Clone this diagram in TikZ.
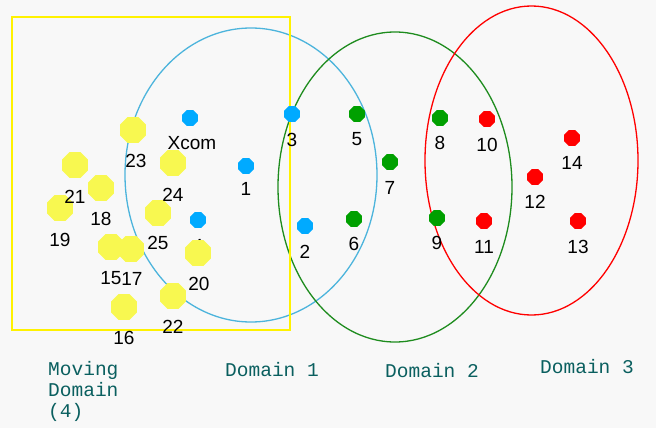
\documentclass[tikz,border=0pt]{standalone}
\usepackage{fontspec}
\setmainfont{Liberation Sans}
\newfontfamily\monofont{Liberation Mono}
\usetikzlibrary{shapes.geometric}
\definecolor{bgc}{HTML}{F8F8F8}
\definecolor{dblue}{HTML}{00AAFF}
\definecolor{lblue}{HTML}{4CB4DC}
\definecolor{dgreen}{HTML}{00A000}
\definecolor{lgreen}{HTML}{1E8C1E}
\definecolor{dred}{HTML}{FF0000}
\definecolor{ylw}{HTML}{F8F850}
\definecolor{teal}{HTML}{0A5F5F}
\tikzset{
  dot/.style={regular polygon, regular polygon sides=8, minimum size=17pt, inner sep=0pt, draw=none},
  bdot/.style={dot, fill=dblue},
  gdot/.style={dot, fill=dgreen},
  rdot/.style={dot, fill=dred},
  ydot/.style={regular polygon, regular polygon sides=8, minimum size=28pt, inner sep=0pt, draw=none, fill=ylw},
  num/.style={inner sep=0pt, text=black, font=\fontsize{19}{19}\selectfont},
  dom/.style={inner sep=0pt, text=teal, align=left, font=\monofont\fontsize{19.5}{21}\selectfont},
}
\begin{document}
\begin{tikzpicture}[x=1pt,y=-1pt]
\fill[bgc] (0,0) rectangle (656,428);
\useasboundingbox (0,0) rectangle (656,428);

% domain boundaries
\draw[lblue, line width=1.3pt] (251,175) ellipse [x radius=126, y radius=147];
\draw[lgreen, line width=1.3pt] (395,187) ellipse [x radius=117, y radius=155];
\draw[dred, line width=1.3pt] (531.5,160.5) ellipse [x radius=106.5, y radius=154.5];
\draw[yellow, line width=2pt] (12,17) rectangle (290,330);

% domain 1 points
\node[bdot] (xc) at (190,118) {};
\node[bdot] (p3) at (292,114) {};
\node[bdot] (p1) at (246,166) {};
\node[bdot] (p4) at (198,220) {};
\node[bdot] (p2) at (305,226) {};
\node[num] (l3) at (292,140) {3};
\node[num] (l1) at (246,189) {1};
\node[num] (l4) at (198,246) {4};
\node[num] (l2) at (305,252) {2};

% domain 2 points
\node[gdot] (p5) at (357,114) {};
\node[gdot] (p7) at (390,162) {};
\node[gdot] (p6) at (354,219) {};
\node[gdot] (p8) at (440,118) {};
\node[gdot] (p9) at (437,218) {};
\node[num] (l5) at (357,139) {5};
\node[num] (l7) at (390,188) {7};
\node[num] (l6) at (354,244) {6};
\node[num] (l8) at (440,143) {8};
\node[num] (l9) at (437,243) {9};

% domain 3 points
\node[rdot] (p10) at (487,119) {};
\node[rdot] (p14) at (572,138) {};
\node[rdot] (p12) at (535,177) {};
\node[rdot] (p11) at (484,221) {};
\node[rdot] (p13) at (578,221) {};
\node[num] (l10) at (487,145) {10};
\node[num] (l14) at (572,163) {14};
\node[num] (l12) at (535,202) {12};
\node[num] (l11) at (484,247) {11};
\node[num] (l13) at (578,247) {13};

% moving domain particles
\node[ydot] (p23) at (133,130) {};
\node[ydot] (p21) at (75,165) {};
\node[ydot] (p18) at (101,188) {};
\node[ydot] (p19) at (60,208) {};
\node[ydot] (p24) at (173,163) {};
\node[ydot] (p25) at (158,213) {};
\node[ydot] (p15) at (111,247) {};
\node[ydot] (p17) at (131,249) {};
\node[ydot] (p20) at (198,253) {};
\node[ydot] (p22) at (173,296) {};
\node[ydot] (p16) at (124,307) {};
\node[num] (lxc) at (192,143) {Xcom};
\node[num] (l23) at (136,161) {23};
\node[num] (l21) at (75,197) {21};
\node[num] (l18) at (101,219) {18};
\node[num] (l19) at (60,240) {19};
\node[num] (l24) at (173,195) {24};
\node[num] (l25) at (158,243) {25};
\node[num] (l15) at (111,278) {15};
\node[num] (l17) at (132,279) {17};
\node[num] (l20) at (199,284) {20};
\node[num] (l22) at (173,327) {22};
\node[num] (l16) at (124,338) {16};

% domain captions
\node[dom, anchor=north west] (mv) at (48,361) {Moving\\Domain\\(4)};
\node[dom, anchor=west] (d1) at (225,370) {Domain 1};
\node[dom, anchor=west] (d2) at (385,371) {Domain 2};
\node[dom, anchor=west] (d3) at (540,367) {Domain 3};
\end{tikzpicture}
\end{document}
